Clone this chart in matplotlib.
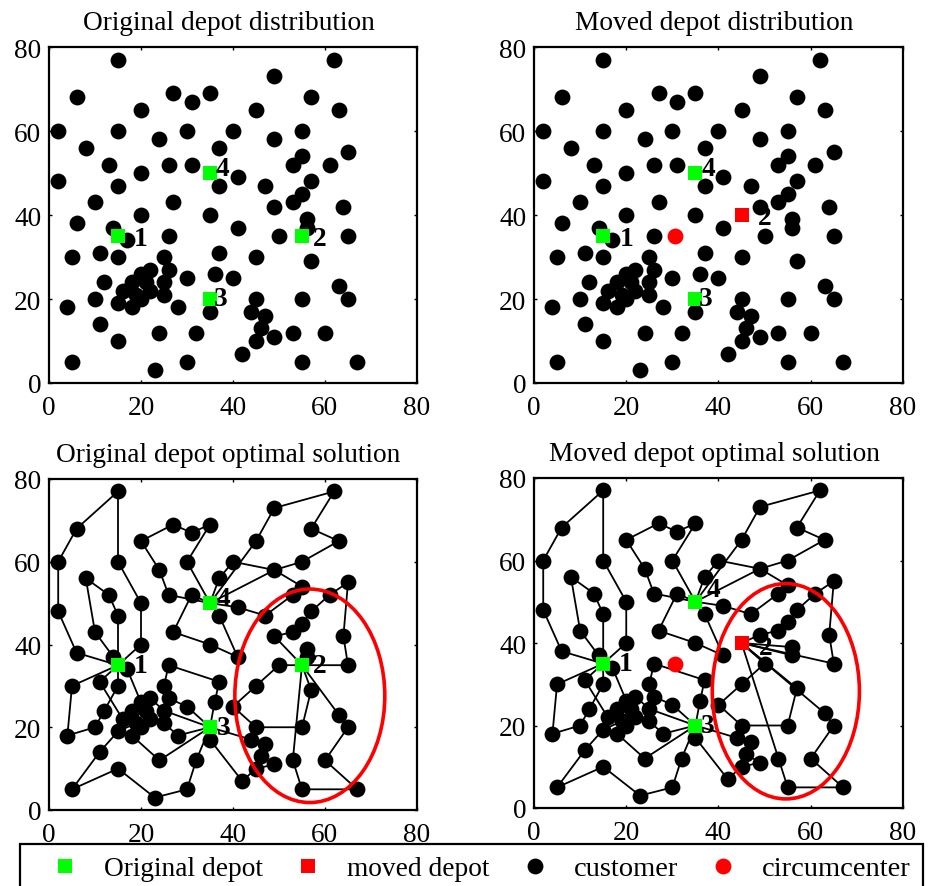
import matplotlib
matplotlib.use('Agg')
import matplotlib.pyplot as plt
from matplotlib.lines import Line2D
from matplotlib.patches import Ellipse

plt.rcParams['font.family'] = ['Liberation Serif', 'DejaVu Serif']
plt.rcParams['font.size'] = 19.7

customers = [(41, 49), (35, 17), (55, 45), (55, 20), (15, 30), (25, 30), (20, 50), (10, 43), (55, 60), (30, 60),
             (20, 65), (50, 35), (30, 25), (15, 10), (30, 5), (10, 20), (5, 30), (20, 40), (15, 60), (45, 65),
             (45, 20), (45, 10), (55, 5), (65, 35), (65, 20), (45, 30), (35, 40), (41, 37), (64, 42), (40, 60),
             (31, 52), (35, 69), (53, 52), (65, 55), (63, 65), (2, 60), (20, 20), (5, 5), (60, 12), (40, 25),
             (42, 7), (24, 12), (23, 3), (11, 14), (6, 38), (2, 48), (8, 56), (13, 52), (6, 68), (47, 47),
             (49, 58), (27, 43), (37, 31), (57, 29), (63, 23), (53, 12), (32, 12), (36, 26), (21, 24), (17, 34),
             (12, 24), (24, 58), (27, 69), (15, 77), (62, 77), (49, 73), (67, 5), (56, 39), (37, 47), (37, 56),
             (57, 68), (47, 16), (44, 17), (46, 13), (49, 11), (49, 42), (53, 43), (61, 52), (57, 48), (56, 37),
             (55, 54), (15, 47), (14, 37), (11, 31), (16, 22), (4, 18), (28, 18), (26, 52), (26, 35), (31, 67),
             (15, 19), (22, 22), (18, 24), (26, 27), (25, 24), (22, 27), (25, 21), (19, 21), (20, 26), (18, 18)]

depot1 = (15, 35)
depot2 = (55, 35)
depot3 = (35, 20)
depot4 = (35, 50)
moved2 = (45, 40)
circumcenter = (30.5, 35)

# routes that do not touch depot 2
shared_routes = [
    [depot1, (6, 38), (2, 48), (2, 60), (6, 68), (15, 77), (15, 60), (20, 50), (20, 40), depot1],
    [depot1, (15, 47), (13, 52), (8, 56), (10, 43), (14, 37), depot1],
    [depot1, (5, 30), (4, 18), (10, 20), (12, 24), (15, 30), depot1],
    [depot1, (11, 31), (16, 22), (18, 24), (21, 24), (20, 26), (17, 34), depot1],
    [depot3, (32, 12), (30, 5), (23, 3), (15, 10), (5, 5), (11, 14), (15, 19), (19, 21), (20, 20), (18, 18), (24, 12), depot3],
    [depot3, (28, 18), (25, 21), (22, 22), (22, 27), (25, 24), depot3],
    [depot3, (30, 25), (26, 27), (25, 30), (26, 35), (37, 31), (36, 26), depot3],
    [depot3, (35, 17), (42, 7), (45, 10), (49, 11), (46, 13), (47, 16), (44, 17), depot3],
    [depot4, (30, 60), (35, 69), (31, 67), (27, 69), (20, 65), (24, 58), (26, 52), depot4],
    [depot4, (31, 52), (27, 43), (35, 40), (41, 37), (37, 47), depot4],
    [depot4, (37, 56), (40, 60), (49, 58), (55, 54), (53, 52), (47, 47), (41, 49), depot4],
    [depot4, (45, 65), (49, 73), (62, 77), (57, 68), (63, 65), (55, 60), (49, 58), depot4],
]
original_routes = [
    [depot2, (49, 42), (53, 43), (55, 45), (57, 48), (61, 52), (65, 55), (64, 42), (65, 35), depot2],
    [depot2, (50, 35), (45, 30), (40, 25), (45, 20), (55, 20), (57, 29), depot2],
    [depot2, (53, 12), (55, 5), (67, 5), (60, 12), (65, 20), (63, 23), depot2],
    [depot2, (56, 37), (56, 39), depot2],
]
moved_routes = [
    [moved2, (49, 42), (53, 43), (55, 45), (57, 48), (61, 52), (65, 55), (64, 42), (65, 35), moved2],
    [moved2, (50, 35), (45, 30), (40, 25), (45, 20), (55, 20), (57, 29), moved2],
    [moved2, (53, 12), (55, 5), (67, 5), (60, 12), (65, 20), (63, 23), moved2],
    [moved2, (56, 37), (56, 39), moved2],
]

titles = ['Original depot distribution', 'Moved depot distribution',
          'Original depot optimal solution', 'Moved depot optimal solution']
ticks = [0, 20, 40, 60, 80]
legend_labels = ['Original depot', 'moved depot', 'customer', 'circumcenter']

W, H = 929, 887
fig = plt.figure(figsize=(W / 100, H / 100), dpi=100)


def add_panel(left, right, top, bottom):
    ax = fig.add_axes([left / W, 1 - bottom / H, (right - left) / W, (bottom - top) / H])
    ax.set_xlim(0, 80)
    ax.set_ylim(0, 80)
    ax.set_xticks(ticks)
    ax.set_yticks(ticks)
    ax.tick_params(direction='in', length=2.5, width=1, top=True, right=True)
    ax.tick_params(axis='x', pad=8.5)
    ax.tick_params(axis='y', pad=5.5)
    for s in ax.spines.values():
        s.set_linewidth(1.6)
    return ax


def draw_points(ax, moved, labels):
    ax.plot([p[0] for p in customers], [p[1] for p in customers], 'o', color='k', ms=11.4, mew=0, zorder=3)
    squares = [depot1, depot3, depot4] + ([] if moved else [depot2])
    ax.plot([p[0] for p in squares], [p[1] for p in squares], 's', color='#00ff00', ms=10.6, mew=0, zorder=4)
    if moved:
        ax.plot(moved2[0], moved2[1], 's', color='#ff0000', ms=10.6, mew=0, zorder=4)
        ax.plot(circumcenter[0], circumcenter[1], 'o', color='#ff0000', ms=11.4, mew=0, zorder=4)
    for name, pos in labels.items():
        ax.text(pos[0], pos[1], name, ha='center', va='center', fontweight='bold', zorder=5)


def draw_routes(ax, routes):
    for r in routes:
        ax.plot([p[0] for p in r], [p[1] for p in r], '-', color='k', lw=1.3, zorder=2)


ax1 = add_panel(49, 417, 48, 384)
ax2 = add_panel(534, 903, 48, 384)
ax3 = add_panel(49, 417, 480, 811)
ax4 = add_panel(534, 903, 479, 809)

draw_points(ax1, False, {'1': (20, 34.5), '2': (58.8, 34.5), '3': (37.3, 20), '4': (37.8, 51)})
draw_points(ax2, True, {'1': (20, 34.5), '2': (50, 39.5), '3': (37.3, 20), '4': (37.8, 51)})
draw_points(ax3, False, {'1': (20, 35), '2': (58.8, 35), '3': (38, 20), '4': (38, 51)})
draw_points(ax4, True, {'1': (19.8, 35), '2': (50.3, 39), '3': (37.6, 20), '4': (39, 53)})

draw_routes(ax3, shared_routes + original_routes)
draw_routes(ax4, shared_routes + moved_routes)

ax3.add_patch(Ellipse((56.7, 27.6), 32.6, 51.6, fill=False, edgecolor='#ff0000', lw=2.6, zorder=6))
ax4.add_patch(Ellipse((54.6, 28.3), 31.9, 52.2, fill=False, edgecolor='#ff0000', lw=2.6, zorder=6))

for ax, t in zip([ax1, ax2, ax3, ax4], titles):
    ax.set_title(t, x=0.488, pad=13, fontsize=19.7)

handles = [
    Line2D([], [], ls='none', marker='s', color='#00ff00', ms=10.6, mew=0),
    Line2D([], [], ls='none', marker='s', color='#ff0000', ms=10.6, mew=0),
    Line2D([], [], ls='none', marker='o', color='k', ms=11.4, mew=0),
    Line2D([], [], ls='none', marker='o', color='#ff0000', ms=11.4, mew=0),
]
leg = fig.legend(handles, legend_labels, ncols=4, loc='upper left', bbox_to_anchor=(20 / W, 1 - 845 / H),
                 borderaxespad=0, borderpad=0.45, handlelength=2.39, handletextpad=0.23, columnspacing=0.45,
                 numpoints=1, fancybox=False, framealpha=1, edgecolor='k')
leg.get_frame().set_linewidth(1.6)
for t in leg.get_texts()[2:]:
    t.set_fontsize(20.5)

fig.savefig('out.png', dpi=100)
